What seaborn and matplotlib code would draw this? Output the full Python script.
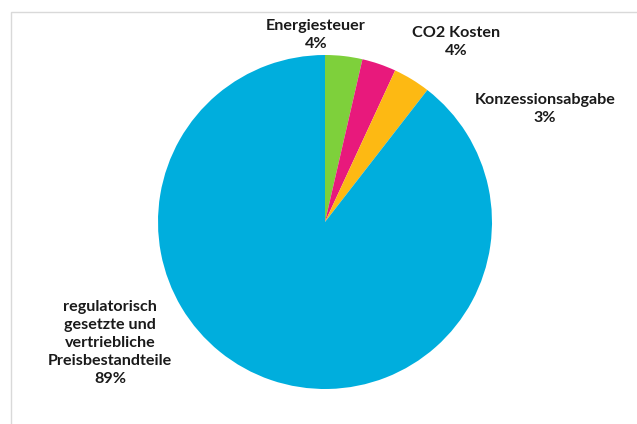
import matplotlib
matplotlib.use("Agg")
import matplotlib.pyplot as plt
import seaborn as sns
from matplotlib.patches import Rectangle

sns.set_theme(style="white")
plt.rcParams['font.family'] = ['Lato', 'DejaVu Sans']

# Anteile am Preis
categories = ['Energiesteuer', 'CO2 Kosten', 'Konzessionsabgabe',
              'regulatorisch\ngesetzte und\nvertriebliche\nPreisbestandteile']
shares = [3.6, 3.3, 3.6, 89.5]
pct_labels = ['4%', '4%', '3%', '89%']
colors = ['#7ED03B', '#E8197C', '#FDB913', '#00AEDD']

# Label-Positionen in Pixeln (Mitte des Textblocks)
label_px = [(316, 35), (456, 42), (545, 109), (110, 343)]

W, H = 637, 424
cx, cy, r = 325, 222, 167

fig = plt.figure(figsize=(W / 100, H / 100), dpi=100)
ax = fig.add_axes([0, 0, 1, 1])
ax.pie(shares, colors=colors, startangle=90, counterclock=False,
       radius=1, wedgeprops=dict(linewidth=0))
ax.set_xlim(-cx / r, (W - cx) / r)
ax.set_ylim(-(H - cy) / r, cy / r)
ax.axis('off')

for cat, pct, (px, py) in zip(categories, pct_labels, label_px):
    ax.text((px - cx) / r, (cy - py) / r, cat + '\n' + pct,
            ha='center', va='center', fontsize=11.6, fontweight='bold',
            color='#1a1a1a', linespacing=1.38)

# heller Rahmen
fig.patches.append(Rectangle((11 / W, -0.05), 1.1, 1 - 12 / H + 0.05,
                             transform=fig.transFigure, fill=False,
                             edgecolor='#d9d9d9', linewidth=1))

fig.savefig('out.png', dpi=100)
